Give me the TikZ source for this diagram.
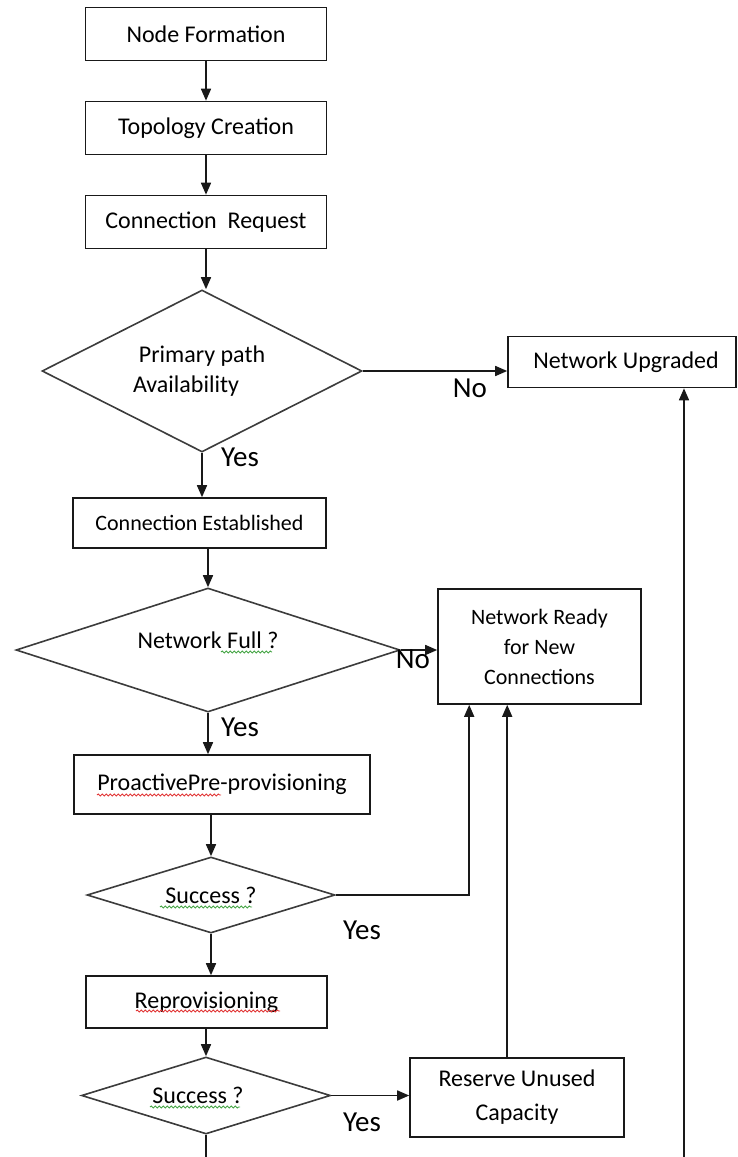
\documentclass[tikz,border=0pt]{standalone}
\usepackage{fontspec}
\setmainfont{Carlito}
\usetikzlibrary{positioning,arrows.meta,shapes.geometric,decorations.pathmorphing}
\definecolor{FlowLine}{RGB}{25,25,25}
\definecolor{SpellRed}{RGB}{225,55,55}
\definecolor{SpellGreen}{RGB}{70,165,70}

\begin{document}
\begin{tikzpicture}[x=1pt,y=-1pt,font=\fontsize{24}{30}\selectfont,
  stepbox/.style={draw=FlowLine,line width=1.6pt,rectangle,inner sep=0pt,align=center},
  choice/.style={draw=FlowLine!85,line width=1.6pt,diamond,aspect=3,inner sep=0pt,align=center},
  flow/.style={line width=1.6pt,FlowLine,-{Triangle[length=12pt,width=10pt]}},
  plain/.style={line width=1.6pt,FlowLine},
  answer/.style={font=\fontsize{29}{30}\selectfont},
  squiggle/.style={decorate,decoration={snake,amplitude=1pt,segment length=4pt},line width=0.9pt}]
\useasboundingbox (0,0) rectangle (737,1157);

% main column
\node[stepbox,minimum width=241pt,minimum height=53pt] (formation) at (206,34) {Node Formation};
\node[stepbox,minimum width=241pt,minimum height=53pt] (topology) at (206,128) {Topology Creation};
\node[stepbox,minimum width=241pt,minimum height=53pt] (request) at (206,222) {Connection\ \ Request};
\node[choice,aspect=2,minimum width=320pt,minimum height=162pt] (primary) at (202,371) {Primary path\\Availability\hspace*{32pt}};
\node[stepbox,minimum width=253pt,minimum height=50pt,font=\fontsize{22}{26}\selectfont] (established) at (199.5,523) {Connection Established};
\node[choice,minimum width=384pt,minimum height=124pt] (full) at (208,650) {Network Full ?\\[-10pt]};
\node[stepbox,minimum width=296pt,minimum height=59pt] (proactive) at (222,784.5) {ProactivePre-provisioning};
\node[choice,minimum width=248pt,minimum height=76pt] (success1) at (211,895) {Success ?};
\node[stepbox,minimum width=241pt,minimum height=52pt] (reprov) at (206.5,1002) {Reprovisioning};
\node[choice,minimum width=249pt,minimum height=77pt] (success2) at (206,1095.5) {Success ?\hspace{16pt}};

% right side
\node[stepbox,minimum width=228pt,minimum height=51pt] (upgraded) at (622,362) {\hspace{8pt}Network Upgraded};
\node[stepbox,minimum width=203pt,minimum height=115pt,font=\fontsize{22}{30}\selectfont] (ready) at (539.5,646.5) {Network Ready\\for New\\Connections};
\node[stepbox,minimum width=214pt,minimum height=79pt,font=\fontsize{24}{34}\selectfont] (reserve) at (517,1097.5) {Reserve Unused\\Capacity};

\coordinate (feed) at (684,1157);
\coordinate (tail) at (206,1157);

% connectors
\draw[flow] (formation) -- (topology);
\draw[flow] (topology) -- (request);
\draw[flow] (request) -- (request.south |- primary.north);
\draw[flow] (primary.south) -- (primary.south |- established.north);
\draw[flow] (full.north |- established.south) -- (full.north);
\draw[flow] (full.south) -- (full.south |- proactive.north);
\draw[flow] (success1.north |- proactive.south) -- (success1.north);
\draw[flow] (success1.south) -- (success1.south |- reprov.north);
\draw[flow] (success2.north |- reprov.south) -- (success2.north);
\draw[plain] (success2.south) -- (tail);

\draw[flow] (primary.east) -- (primary.east -| upgraded.west);
\draw[flow] (full.east) -- (full.east -| ready.west);
\draw[flow] (success1.east) -| ([xshift=32pt]ready.south west);
\draw[flow] ([xshift=70pt]ready.south west |- reserve.north) -- ([xshift=70pt]ready.south west);
\draw[flow] (success2.east) -- (success2.east -| reserve.west);
\draw[flow] (feed) -- (feed |- upgraded.south);

% yes / no
\node[answer] (no1) at (470,388) {No};
\node[answer] (yes1) at (240,457) {Yes};
\node[answer] (no2) at (413,659) {No};
\node[answer] (yes2) at (240,727) {Yes};
\node[answer] (yes3) at (362,930) {Yes};
\node[answer] (yes4) at (362,1122) {Yes};

% spell check marks
\draw[squiggle,SpellGreen] (221,652) -- (272,652);
\draw[squiggle,SpellRed] (97,795) -- (221,795);
\draw[squiggle,SpellGreen] (160,907) -- (252,907);
\draw[squiggle,SpellRed] (136,1011) -- (280,1011);
\draw[squiggle,SpellGreen] (150,1107) -- (240,1107);
\end{tikzpicture}
\end{document}
